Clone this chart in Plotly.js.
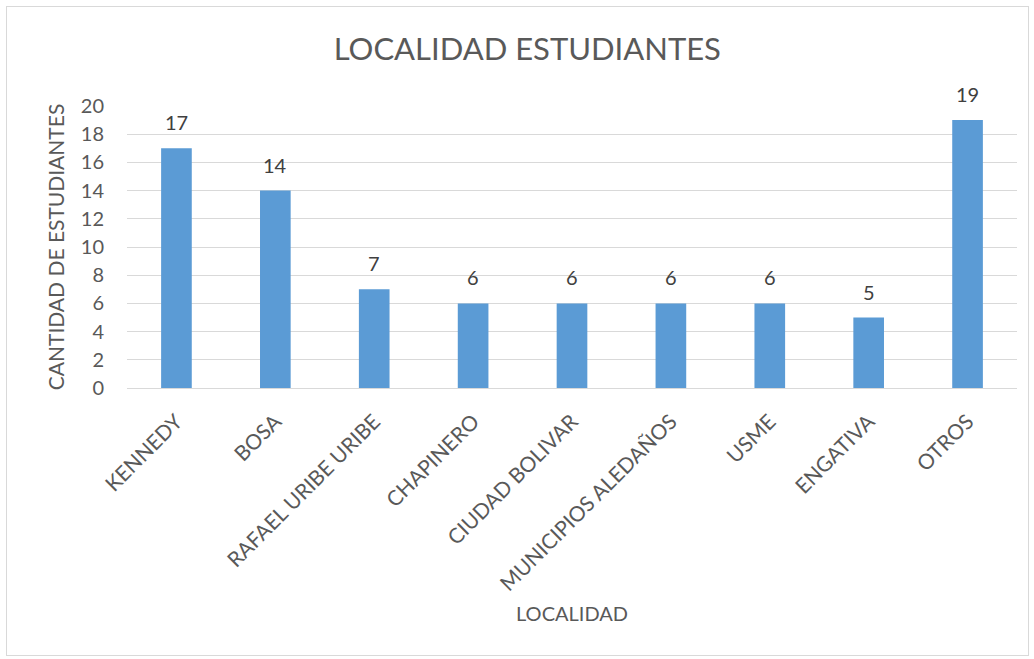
<!DOCTYPE html>
<html>
<head>
<meta charset="utf-8">
<script src="https://cdn.plot.ly/plotly-3.0.1.min.js"></script>
<style>
html,body{margin:0;padding:0;background:#fff;}
#chart{position:absolute;left:0;top:0;width:1034px;height:659px;}
#frame{position:absolute;left:6px;top:6px;width:1021px;height:648px;border:1px solid #d9d9d9;pointer-events:none;}
</style>
</head>
<body>
<div id="chart"></div>
<div id="frame"></div>
<script>
const categories = ["KENNEDY","BOSA","RAFAEL URIBE URIBE","CHAPINERO","CIUDAD BOLIVAR","MUNICIPIOS ALEDAÑOS","USME","ENGATIVA","OTROS"];
const values = [17,14,7,6,6,6,6,5,19];
const yTicks = [0,2,4,6,8,10,12,14,16,18,20];

const fontFam = "Lato, 'Open Sans', sans-serif";
const txt = "#595959";

const labels = categories.map((c, i) => ({
  x: c, y: values[i], xref: "x", yref: "y",
  text: String(values[i]), showarrow: false,
  yanchor: "bottom", yshift: 12,
  font: {family: fontFam, size: 20, color: "#404040"}
}));

Plotly.newPlot("chart", [{
  type: "bar",
  x: categories,
  y: values,
  marker: {color: "#5b9bd5"},
  hoverinfo: "skip"
}], {
  width: 1034, height: 659,
  margin: {l: 127, r: 17, t: 106, b: 271},
  paper_bgcolor: "#fff", plot_bgcolor: "#fff",
  bargap: 0.69,
  showlegend: false,
  annotations: labels,
  title: {text: "LOCALIDAD ESTUDIANTES", font: {family: fontFam, size: 31, color: txt}, x: 0.51, xanchor: "center", y: 0.925, yanchor: "middle"},
  xaxis: {
    type: "category",
    tickangle: -45,
    tickfont: {family: fontFam, size: 21, color: txt},
    showline: true, linecolor: "#d9d9d9", linewidth: 1,
    ticks: "", showgrid: false,
    ticklabelstandoff: 12,
    title: {text: "LOCALIDAD", font: {family: fontFam, size: 20, color: txt}, standoff: 12}
  },
  yaxis: {
    range: [0, 20],
    tickvals: yTicks,
    ticktext: yTicks.map(String),
    tickfont: {family: fontFam, size: 20, color: txt},
    showgrid: true, gridcolor: "#d9d9d9", gridwidth: 1,
    zeroline: false, showline: false, ticks: "",
    ticklabelstandoff: 22,
    title: {text: "CANTIDAD DE ESTUDIANTES", font: {family: fontFam, size: 21, color: txt}, standoff: 10}
  },
  font: {family: fontFam, color: txt}
}, {displayModeBar: false, staticPlot: true});
</script>
</body>
</html>
